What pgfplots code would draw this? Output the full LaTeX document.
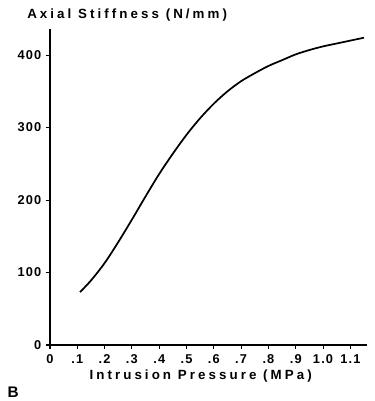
\documentclass[border=0pt]{standalone}
\usepackage{fontspec}
\setmainfont{Liberation Sans}
\newfontfamily\lblfont{Liberation Sans}[LetterSpace=23]
\newfontfamily\tickfont{Liberation Sans}[LetterSpace=9]
\usepackage{pgfplots}
\pgfplotsset{compat=1.18}
\begin{document}
\begin{tikzpicture}
\begin{axis}[
  scale only axis,
  width=237.75pt, height=237pt,
  xmin=0, xmax=1.161, ymin=0, ymax=436,
  axis x line=bottom, axis y line=left,
  axis line style={line width=1.4pt, -},
  xtick={0,0.1,0.2,0.3,0.4,0.5,0.6,0.7,0.8,0.9,1.0,1.1},
  xticklabels={0,.1,.2,.3,.4,.5,.6,.7,.8,.9,1.0,1.1},
  ytick={0,100,200,300,400},
  tick align=outside,
  major tick length=3pt,
  tick style={black, line width=0.8pt},
  ticklabel style={font=\tickfont\bfseries\fontsize{9.6}{11}\selectfont},
  /pgf/number format/assume math mode=true,
  xticklabel style={yshift=-1pt},
  yticklabel style={xshift=0pt},
  clip=false,
]
\addplot[black, line width=1.3pt, smooth] coordinates {
(0.11,73) (0.15,89) (0.2,113) (0.25,142) (0.3,173) (0.35,205) (0.4,236)
(0.45,264) (0.5,290) (0.55,313) (0.6,333) (0.65,350) (0.7,364) (0.75,375)
(0.8,385) (0.85,393) (0.9,401) (0.95,407) (1.0,412) (1.05,416) (1.1,420) (1.15,424)
};
\end{axis}
\node[anchor=base west, inner sep=0pt, font=\lblfont\bfseries\fontsize{10}{11}\selectfont]
  at ([xshift=-17.25pt, yshift=8.25pt]current axis.north west) {Axial Stiffness (N/mm)};
\node[anchor=base, inner sep=0pt, font=\lblfont\bfseries\fontsize{10}{11}\selectfont]
  at ([xshift=113pt, yshift=-25.5pt]current axis.south west) {Intrusion Pressure (MPa)};
\node[anchor=base west, inner sep=0pt, font=\bfseries\fontsize{11.5}{12}\selectfont]
  at ([xshift=-32pt, yshift=-39pt]current axis.south west) {B};
\pgfresetboundingbox
\path[use as bounding box] ([xshift=-37.5pt, yshift=-42pt]current axis.south west) rectangle ([xshift=6pt, yshift=21.75pt]current axis.north east);
\end{tikzpicture}
\end{document}
